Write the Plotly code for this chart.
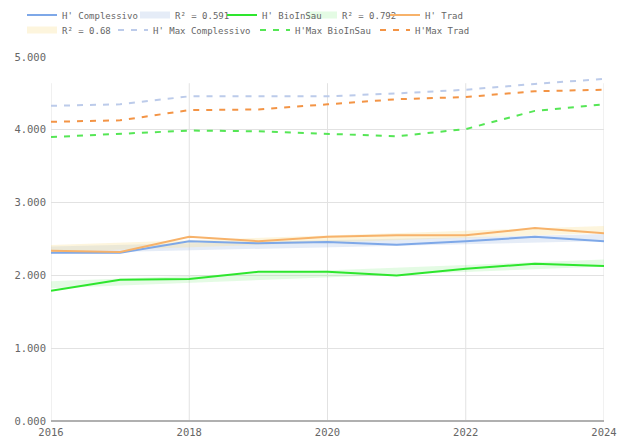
import plotly.graph_objects as go

years = [2016, 2017, 2018, 2019, 2020, 2021, 2022, 2023, 2024]

h_complessivo = [2.31, 2.31, 2.47, 2.44, 2.46, 2.42, 2.47, 2.53, 2.47]
h_bioinsau = [1.79, 1.94, 1.95, 2.05, 2.05, 2.00, 2.09, 2.16, 2.13]
h_trad = [2.34, 2.32, 2.53, 2.47, 2.53, 2.55, 2.55, 2.65, 2.58]

hmax_complessivo = [4.33, 4.35, 4.46, 4.46, 4.46, 4.50, 4.55, 4.63, 4.70]
hmax_bioinsau = [3.90, 3.94, 3.99, 3.98, 3.95, 3.91, 4.01, 4.26, 4.35]
hmax_trad = [4.11, 4.13, 4.27, 4.28, 4.35, 4.42, 4.45, 4.53, 4.55]

trend_years = [2016, 2024]
trend_complessivo = [2.35, 2.52]
trend_bioinsau = [1.87, 2.17]
trend_trad = [2.37, 2.63]

xtick_vals = [2016, 2018, 2020, 2022, 2024]
ytick_vals = [0, 1, 2, 3, 4, 5]
vgrid_top = 4.64

MONO = "DejaVu Sans Mono"
OFF = 8  # page body margin of the written html
W, H = 633 - OFF, 441 - OFF

# legend entries: (legend id -> text start px, row centre px) in screenshot pixels
legend_slots = {
    "legend":  (62, 15), "legend2": (175, 15), "legend3": (262, 15),
    "legend4": (342, 15), "legend5": (425, 15),
    "legend6": (62, 30), "legend7": (153, 30), "legend8": (295, 30),
    "legend9": (415, 30),
}

fig = go.Figure()

# trend lines (thick, translucent)
fig.add_trace(go.Scatter(x=trend_years, y=trend_complessivo, mode="lines", name="R² = 0.591",
                         line=dict(color="rgba(160,185,225,0.28)", width=7), legend="legend2"))
fig.add_trace(go.Scatter(x=trend_years, y=trend_bioinsau, mode="lines", name="R² = 0.792",
                         line=dict(color="rgba(130,235,130,0.22)", width=7), legend="legend4"))
fig.add_trace(go.Scatter(x=trend_years, y=trend_trad, mode="lines", name="R² = 0.68",
                         line=dict(color="rgba(250,225,150,0.32)", width=7), legend="legend6"))

# solid series
fig.add_trace(go.Scatter(x=years, y=h_complessivo, mode="lines", name="H' Complessivo",
                         line=dict(color="#7ea8e8", width=2), legend="legend"))
fig.add_trace(go.Scatter(x=years, y=h_bioinsau, mode="lines", name="H' BioInSau",
                         line=dict(color="#2ee62e", width=2), legend="legend3"))
fig.add_trace(go.Scatter(x=years, y=h_trad, mode="lines", name="H' Trad",
                         line=dict(color="#f7b26a", width=2), legend="legend5"))

# dashed max series
fig.add_trace(go.Scatter(x=years, y=hmax_complessivo, mode="lines", name="H' Max Complessivo",
                         line=dict(color="#bccbea", width=2, dash="6px,7px"), legend="legend7"))
fig.add_trace(go.Scatter(x=years, y=hmax_bioinsau, mode="lines", name="H'Max BioInSau",
                         line=dict(color="#55e655", width=2, dash="6px,7px"), legend="legend8"))
fig.add_trace(go.Scatter(x=years, y=hmax_trad, mode="lines", name="H'Max Trad",
                         line=dict(color="#f39445", width=2, dash="6px,7px"), legend="legend9"))

# vertical grid lines (stop below the top)
for xv in xtick_vals:
    fig.add_shape(type="line", x0=xv, x1=xv, y0=0, y1=vgrid_top, xref="x", yref="y",
                  line=dict(color="#e2e2e2", width=1), layer="below")

legend_layout = {}
for lid, (tx, cy) in legend_slots.items():
    legend_layout[lid] = dict(
        orientation="h", xref="container", yref="container",
        x=(tx - 40 - OFF) / W, xanchor="left", y=1 - (cy - OFF) / H, yanchor="middle",
        font=dict(family=MONO, size=9, color="#666"),
        itemwidth=30, bgcolor="rgba(0,0,0,0)", borderwidth=0,
    )

fig.update_layout(
    width=W, height=H,
    margin=dict(l=51 - OFF, r=29, t=57 - OFF, b=20, autoexpand=False),
    paper_bgcolor="white", plot_bgcolor="white",
    showlegend=True,
    xaxis=dict(range=[2016, 2024], tickvals=xtick_vals, ticktext=[str(v) for v in xtick_vals],
               showgrid=False, zeroline=False, showline=False, ticks="", automargin=False,
               ticklabelstandoff=3,
               tickfont=dict(family=MONO, size=10.5, color="#666")),
    yaxis=dict(range=[0, 5], tickvals=ytick_vals, tickformat=".3f", automargin=False,
               showgrid=True, gridcolor="#e2e2e2", gridwidth=1,
               zeroline=True, zerolinecolor="#b0b0b0", zerolinewidth=2,
               showline=False, ticks="", ticklabelstandoff=4,
               tickfont=dict(family=MONO, size=10.5, color="#666")),
    **legend_layout,
)

fig.write_html("out.html")
